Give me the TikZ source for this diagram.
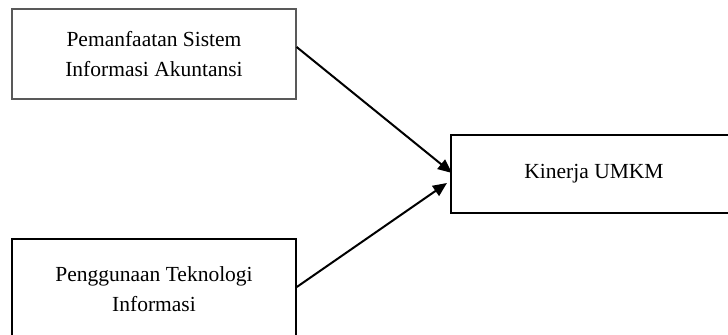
\documentclass[tikz,border=0pt]{standalone}
\usepackage{fontspec}
\setmainfont{Liberation Serif}
\usetikzlibrary{positioning,calc,arrows.meta}

\tikzset{
    varbox/.style={draw, rectangle, inner sep=0pt, align=center,
        font=\fontsize{10.75}{15}\selectfont},
    link/.style={line width=1pt, -{Triangle[length=7pt,width=6pt]}}
}

\begin{document}
\begin{tikzpicture}[x=0.5pt,y=-0.5pt]
    \useasboundingbox (0,0) rectangle (728,335);
    \clip (0,0) rectangle (728,335);

    % independent variables
    \node[varbox, draw=black!65, line width=0.6pt, minimum width=142pt, minimum height=45pt] (sia) at (154,54) {Pemanfaatan Sistem\\Informasi Akuntansi};
    \node[varbox, line width=0.8pt, minimum width=142pt, minimum height=50pt] (ti) at (154,289) {Penggunaan Teknologi\\Informasi};

    % dependent variable
    \node[varbox, line width=1pt, minimum width=143pt, minimum height=39pt] (umkm) at (594,174) {Kinerja UMKM};

    \draw[link] ([yshift=3.5pt]sia.east) -- ([yshift=0.5pt,xshift=1pt]umkm.west);
    \draw[link] ([yshift=1pt]ti.east) -- ([yshift=-4.5pt,xshift=-1.5pt]umkm.west);
\end{tikzpicture}
\end{document}
